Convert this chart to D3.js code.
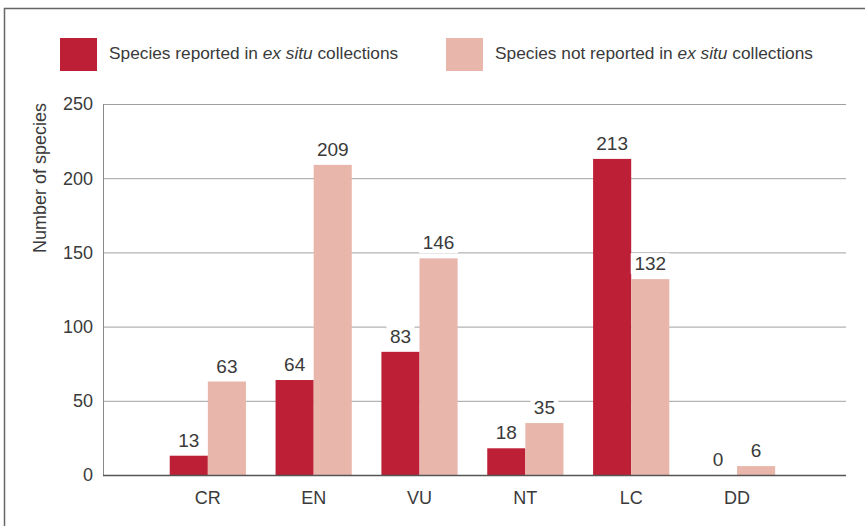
<!DOCTYPE html>
<html>
<head>
<meta charset="utf-8">
<script src="https://cdn.jsdelivr.net/npm/d3@7"></script>
<style>
  body { margin: 0; background: #fff; }
  svg { display: block; font-family: "Liberation Sans", Arial, sans-serif; }
</style>
</head>
<body>
<div id="chart"></div>
<script>
// IUCN categories and species counts
const categories = ["CR", "EN", "VU", "NT", "LC", "DD"];
const reported = [13, 64, 83, 18, 213, 0];
const notReported = [63, 209, 146, 35, 132, 6];
const seriesNames = ["Species reported in ", "Species not reported in "];
const yTicks = [0, 50, 100, 150, 200, 250];

const width = 865;
const height = 526;
const colors = ["#bd1f36", "#e8b6ab"];
const textColor = "#3a3a3a";

const svg = d3.select("#chart")
              .append("svg")
              .attr("width", width)
              .attr("height", height);

// frame, open at right and bottom
svg.append("path")
   .attr("d", `M4.5,${height} L4.5,8.5 L${width},8.5`)
   .attr("fill", "none")
   .attr("stroke", "#666")
   .attr("stroke-width", 1.5);

const y = d3.scaleLinear().domain([0, 250]).range([475, 104]);
const x = d3.scaleBand()
            .domain(categories)
            .range([103, 846])
            .paddingInner(0.28)
            .paddingOuter(0.65)
            .align(0.485);
const xSub = d3.scaleBand().domain([0, 1]).range([0, x.bandwidth()]);

// gridlines
svg.append("g")
   .selectAll("line")
   .data(yTicks.filter(d => d > 0))
   .enter()
   .append("line")
   .attr("x1", 103)
   .attr("x2", 846)
   .attr("y1", d => y(d) + 0.5)
   .attr("y2", d => y(d) + 0.5)
   .attr("stroke", "#a0a0a0")
   .attr("stroke-width", 1);

// y axis line
svg.append("line")
   .attr("x1", 103.5).attr("x2", 103.5)
   .attr("y1", y(250)).attr("y2", y(0))
   .attr("stroke", "#888")
   .attr("stroke-width", 1);

// y tick labels
svg.append("g")
   .selectAll("text")
   .data(yTicks)
   .enter()
   .append("text")
   .attr("x", 93)
   .attr("y", d => y(d))
   .attr("dy", "0.36em")
   .attr("text-anchor", "end")
   .style("font-size", "18px")
   .style("fill", textColor)
   .text(d => d);

// y axis title
svg.append("text")
   .attr("transform", "translate(46,178) rotate(-90)")
   .attr("text-anchor", "middle")
   .style("font-size", "18px")
   .style("fill", textColor)
   .text("Number of species");

// bars
const rows = categories.map((c, i) => ({ cat: c, values: [reported[i], notReported[i]] }));
const groups = svg.append("g")
                  .selectAll("g")
                  .data(rows)
                  .enter()
                  .append("g")
                  .attr("transform", d => `translate(${x(d.cat)},0)`);

groups.selectAll("rect")
      .data(d => d.values.map((v, k) => ({ v, k })))
      .enter()
      .append("rect")
      .attr("x", d => xSub(d.k))
      .attr("width", xSub.bandwidth())
      .attr("y", d => y(d.v))
      .attr("height", d => y(0) - y(d.v))
      .attr("fill", d => colors[d.k]);

// value labels with white backing
const labels = groups.selectAll("g.lbl")
                     .data(d => d.values.map((v, k) => ({ v, k })))
                     .enter()
                     .append("g")
                     .attr("class", "lbl")
                     .attr("transform", d => `translate(${xSub(d.k) + xSub.bandwidth() / 2},${y(d.v) - 9})`);

labels.append("rect")
      .attr("x", d => -String(d.v).length * 5.5 - 3)
      .attr("y", -17)
      .attr("width", d => String(d.v).length * 11 + 6)
      .attr("height", 21)
      .attr("fill", "#fff");

labels.append("text")
      .attr("text-anchor", "middle")
      .style("font-size", "19px")
      .style("fill", textColor)
      .text(d => d.v);

// baseline
svg.append("line")
   .attr("x1", 103).attr("x2", 846)
   .attr("y1", y(0) + 0.5).attr("y2", y(0) + 0.5)
   .attr("stroke", "#555")
   .attr("stroke-width", 1.5);

// x labels
svg.append("g")
   .selectAll("text")
   .data(categories)
   .enter()
   .append("text")
   .attr("x", d => x(d) + x.bandwidth() / 2)
   .attr("y", 504)
   .attr("text-anchor", "middle")
   .style("font-size", "18px")
   .style("fill", textColor)
   .text(d => d);

// legend
const legendX = [60, 446];
const legend = svg.append("g")
                  .selectAll("g")
                  .data(seriesNames)
                  .enter()
                  .append("g")
                  .attr("transform", (d, i) => `translate(${legendX[i]},38)`);

legend.append("rect")
      .attr("width", 37)
      .attr("height", 33)
      .attr("fill", (d, i) => colors[i]);

const lt = legend.append("text")
                 .attr("x", 49)
                 .attr("y", 21)
                 .style("font-size", "17.3px")
                 .style("fill", textColor);
lt.append("tspan").text(d => d);
lt.append("tspan").style("font-style", "italic").text("ex situ");
lt.append("tspan").text(" collections");
</script>
</body>
</html>
